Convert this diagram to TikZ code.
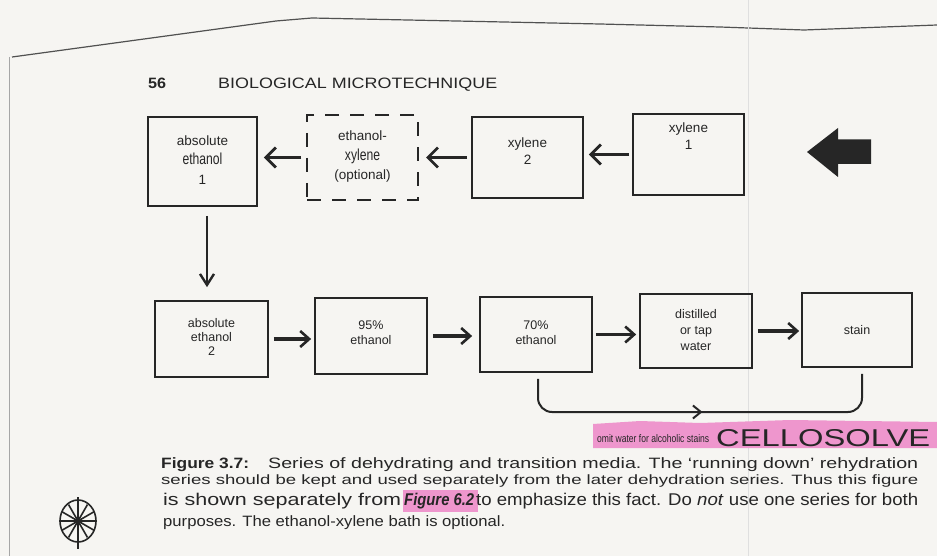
\documentclass[tikz,border=0pt]{standalone}
\usepackage{fontspec}
\setmainfont{Liberation Sans}
\usetikzlibrary{arrows.meta,decorations.markings,calc}
\definecolor{inkc}{HTML}{262626}
\definecolor{paper}{RGB}{246,245,242}
\definecolor{pinkc}{RGB}{238,150,205}
\newcommand{\tall}[1]{\scalebox{0.9}[1.18]{#1}}
\begin{document}
\begin{tikzpicture}[x=1pt,y=-1pt,
  box/.style={draw=inkc, line width=1.7pt, inner sep=0pt},
  dbox/.style={draw=inkc, line width=2pt, inner sep=0pt, dash pattern=on 14pt off 11pt},
  lbl/.style={text=inkc, align=center, inner sep=0pt, font=\fontsize{13.5}{19.5}\selectfont},
  sml/.style={text=inkc, align=center, inner sep=0pt, font=\fontsize{12.5}{14}\selectfont},
  harrow/.style={draw=inkc, line width=3.6pt, -{Straight Barb[length=10pt,width=20pt,line width=2.8pt]}},
  barrow/.style={draw=inkc, line width=3.6pt, -{Straight Barb[length=9pt,width=16pt,line width=2.6pt]}},
  varrow/.style={draw=inkc, line width=2.4pt, -{Straight Barb[length=11pt,width=14pt,line width=2.4pt]}},
  bracket/.style={draw=inkc, line width=2pt, rounded corners=14pt,
    postaction={decorate},
    decoration={markings, mark=at position 0.5 with {\arrow[line width=2pt]{Straight Barb[length=8pt,width=13pt]}}}},
  capt/.style={anchor=base west, inner sep=0pt, text=inkc},
]
\fill[paper] (0,0) rectangle (937,556);
\useasboundingbox (0,0) rectangle (937,556);

% page edges
\draw[inkc!80, line width=1.2pt] (12,57) -- (100,45) -- (276,21) -- (312,18) -- (600,24) -- (720,27) -- (804,30) -- (937,25);
\draw[gray!70, line width=0.8pt] (9,57) -- (9,556);
\draw[gray!25, line width=0.7pt] (748,0) -- (748,556);

% header
\node[capt, font=\bfseries\fontsize{15}{15}\selectfont] (pg) at (148,89) {\resizebox{18pt}{\height}{56}};
\node[capt] (hd) at (218,89) {\resizebox{279pt}{10.5pt}{BIOLOGICAL MICROTECHNIQUE}};

% top row
\node[box, minimum width=109pt, minimum height=89pt] (b1) at (202.5,161.5) {};
\node[dbox, minimum width=111pt, minimum height=85pt] (dx) at (362.5,157.5) {};
\node[box, minimum width=111pt, minimum height=81pt] (x2) at (527.5,157.5) {};
\node[box, minimum width=111pt, minimum height=81pt] (x1) at (688.5,154.5) {};

\node[lbl] (t1) at (202.5,160) {absolute\\\tall{ethanol}\\1};
\node[lbl] (tdx) at (362.5,157) {ethanol-\\\tall{xylene}\\(optional)};
\node[lbl, font=\fontsize{13.5}{17}\selectfont] (tx2) at (527.5,151) {xylene\\2};
\node[lbl, font=\fontsize{13.5}{17}\selectfont] (tx1) at (688.5,136.5) {xylene\\1};

% big arrow
\fill[inkc] (807,152) -- (838,128) -- (838,139.5) -- (871,139.5) -- (871,164) -- (838,164) -- (838,177) -- cycle;

% top arrows
\draw[harrow, shorten <=5pt, shorten >=6pt] (dx.west) -- (dx.west -| b1.east);
\draw[harrow, shorten <=4pt, shorten >=7pt] (x2.west) -- (x2.west -| dx.east);
\draw[harrow, shorten <=3pt, shorten >=5pt] (x1.west) -- (x1.west -| x2.east);

% bottom row
\node[box, minimum width=113pt, minimum height=76pt] (a2) at (211.5,339) {};
\node[box, minimum width=112pt, minimum height=76pt] (p95) at (371,336) {};
\node[box, minimum width=112pt, minimum height=75pt] (p70) at (536,334.5) {};
\node[box, minimum width=112pt, minimum height=74pt] (dw) at (696,331) {};
\node[box, minimum width=110pt, minimum height=74pt] (st) at (857,330) {};

\node[sml] (ta2) at (211.5,337) {absolute\\ethanol\\2};
\node[sml, font=\fontsize{12.5}{15}\selectfont] (t95) at (371,333) {95\%\\ethanol};
\node[sml, font=\fontsize{12.5}{15}\selectfont] (t70) at (536,333) {70\%\\ethanol};
\node[sml, font=\fontsize{12.5}{16}\selectfont] (tdw) at (696,330) {distilled\\or tap\\water};
\node[sml] (tst) at (857,330) {stain};

% vertical arrow
\draw[varrow, shorten <=9pt, shorten >=13pt] ([xshift=4.5pt]b1.south) -- ([xshift=4.5pt]b1.south |- a2.north);

% bottom arrows
\draw[barrow, shorten <=5pt, shorten >=3pt] (a2.east) -- (a2.east -| p95.west);
\draw[barrow, shorten <=5pt, shorten >=7pt] (p95.east) -- (p95.east -| p70.west);
\draw[barrow, shorten <=3pt, shorten >=3pt] (p70.east) -- (p70.east -| dw.west);
\draw[barrow, shorten <=5pt, shorten >=2pt] (dw.east) -- (dw.east -| st.west);

% bracket connector
\coordinate (bb) at (700,412);
\draw[bracket, shorten <=6pt, shorten >=6pt] ([xshift=2pt]p70.south) |- (bb) -| ([xshift=5pt]st.south);

% pink note
\fill[pinkc] (593,424) -- (640,421) -- (700,423) -- (790,420) -- (937,422) -- (937,448) -- (593,448) -- cycle;
\node[capt] (om) at (597,442) {\resizebox{112pt}{\height}{\fontsize{11}{11}\selectfont omit water for alcoholic stains}};
\node[capt] (cs) at (716,446) {\resizebox{214pt}{17pt}{CELLOSOLVE}};

% caption
\fill[pinkc] (403,490) rectangle (478,512);
\node[capt] (c1a) at (161,468) {\resizebox{88pt}{\height}{\fontsize{15}{15}\selectfont\textbf{Figure 3.7:}}};
\node[capt] (c1b) at (268,468) {\resizebox{650pt}{\height}{\fontsize{15}{15}\selectfont Series of dehydrating and transition media. The ‘running down’ rehydration}};
\node[capt] (c2) at (161,484) {\resizebox{757pt}{\height}{\fontsize{13.5}{14}\selectfont series should be kept and used separately from the later dehydration series. Thus this figure}};
\node[capt] (c3a) at (163,505) {\resizebox{238pt}{\height}{\fontsize{17}{17}\selectfont is shown separately from}};
\node[capt] (c3b) at (404,505) {\resizebox{70pt}{\height}{\fontsize{17}{17}\selectfont\textbf{\textit{Figure 6.2}}}};
\node[capt] (c3c) at (476,505) {\resizebox{442pt}{\height}{\fontsize{17}{17}\selectfont to emphasize this fact. Do \textit{not} use one series for both}};
\node[capt] (c4) at (163,526) {\resizebox{342pt}{\height}{\fontsize{15}{15}\selectfont purposes. The ethanol-xylene bath is optional.}};

% doodle
\begin{scope}[inkc, line width=1.6pt]
\draw (78,521) ellipse (18 and 21);
\foreach \a in {0,30,...,150} \draw (78,521) +(\a:19) -- +(\a+180:19);
\draw (78,497) -- (78,549);
\end{scope}
\end{tikzpicture}
\end{document}
